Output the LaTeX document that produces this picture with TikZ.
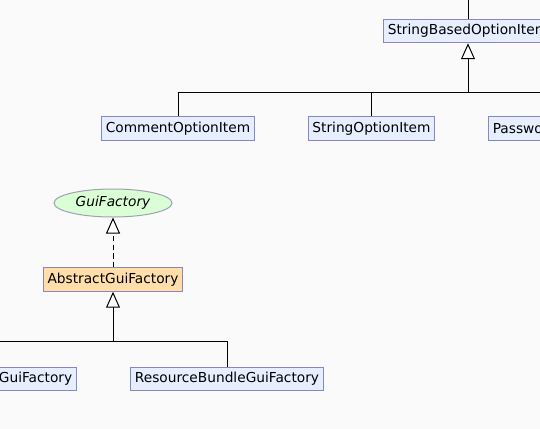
\documentclass[tikz,border=0pt]{standalone}
\usepackage{fontspec}
\setmainfont{DejaVu Sans}
\usetikzlibrary{arrows.meta,shapes.geometric}

\definecolor{canvas}{RGB}{250,250,250}
\definecolor{classfill}{RGB}{230,238,255}
\definecolor{classline}{RGB}{135,135,200}
\definecolor{ifacefill}{RGB}{218,255,212}
\definecolor{ifaceline}{RGB}{160,160,180}
\definecolor{abstractfill}{RGB}{255,222,170}

\tikzset{
  classbox/.style={draw=classline, fill=classfill, line width=0.75pt,
    minimum height=17.6pt, inner xsep=3.2pt, inner ysep=0pt,
    font=\fontsize{10.3}{12}\selectfont},
  abstractbox/.style={classbox, fill=abstractfill},
  ifacebox/.style={ellipse, draw=ifaceline, fill=ifacefill, line width=0.75pt,
    minimum width=88.5pt, minimum height=21pt, inner sep=0pt,
    font=\fontsize{10.3}{12}\selectfont\itshape},
  wire/.style={line width=0.75pt},
  inherit/.style={wire, -{Triangle[length=12pt,width=10.5pt,fill=white]}},
  realize/.style={inherit, dash pattern=on 4pt off 2.5pt}
}

\begin{document}
\begin{tikzpicture}[x=0.75pt,y=-0.75pt]
\useasboundingbox (0,0) rectangle (540,429);
\fill[canvas] (0,0) rectangle (540,429);
\clip (0,0) rectangle (540,429);

% option items
\node[classbox] (stringbased) at (468,31) {StringBasedOptionItem};
\node[classbox] (comment) at (178,128.5) {CommentOptionItem};
\node[classbox] (stringitem) at (371.5,128.5) {StringOptionItem};
\node[classbox, anchor=west, text width=110pt, align=left] (password) at (488,128.5) {Passwo};
\coordinate (optbus) at (468,92);
\coordinate (optroot) at (468,-10);

% gui factories
\node[ifacebox] (guifactory) at (113,203) {GuiFactory};
\node[abstractbox] (abstractgui) at (113,279.5) {AbstractGuiFactory};
\node[classbox, anchor=east, text width=140pt, align=right] (othergui) at (77,379) {GuiFactory};
\node[classbox] (resourcegui) at (227,379) {ResourceBundleGuiFactory};
\coordinate (guibus) at (113,341);

\draw[wire] (stringbased.north) -- (optroot);
\draw[inherit] (optbus) -- (stringbased.south);
\draw[wire] (comment.north) |- (optbus);
\draw[wire] (stringitem.north) |- (optbus);
\draw[wire] (password.north) |- (optbus);

\draw[realize] (abstractgui.north) -- (guifactory.south);
\draw[inherit] (guibus) -- (abstractgui.south);
\draw[wire] (othergui.north) |- (guibus);
\draw[wire] (resourcegui.north) |- (guibus);
\end{tikzpicture}
\end{document}
